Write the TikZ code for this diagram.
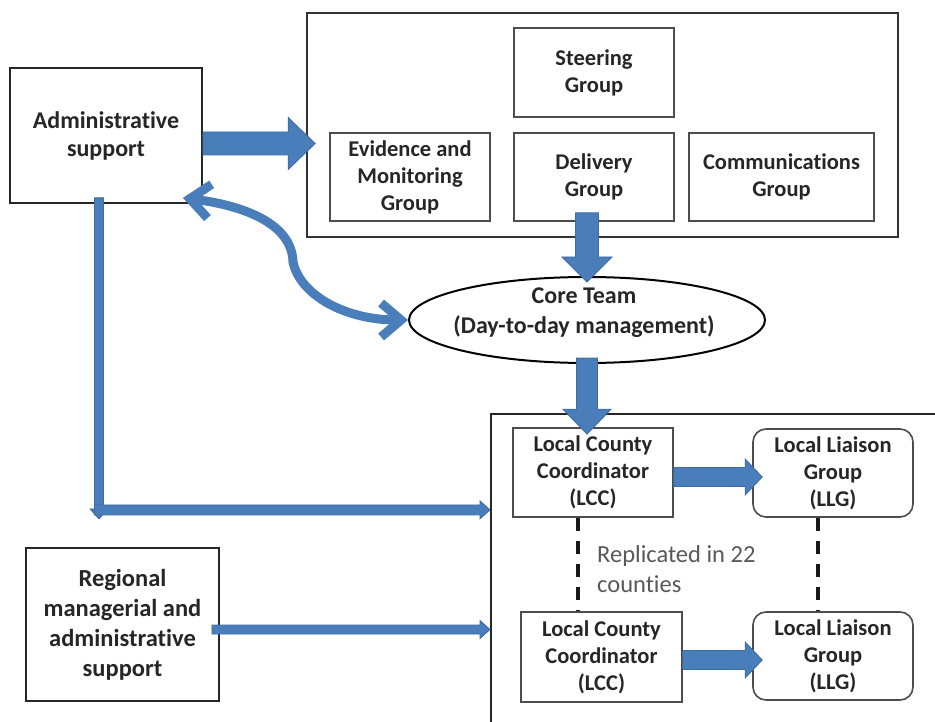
\documentclass[tikz,border=0pt]{standalone}
\usepackage{fontspec}
\setmainfont{Carlito}[Ligatures=NoCommon]
\usetikzlibrary{calc,shapes.geometric,arrows.meta}
\definecolor{arrblue}{HTML}{4A7EBB}
\definecolor{arredge}{HTML}{3C6BA5}
\definecolor{txt}{HTML}{262626}
\definecolor{boxline}{HTML}{4D4D4D}
\definecolor{repl}{HTML}{595959}
\newcommand\myArrR[5]{\filldraw[barrow] let \p1=(#1), \p2=(#2) in
  (\x1,\y1-#3/2) -- (\x2-#5,\y1-#3/2) -- (\x2-#5,\y1-#4/2) -- (\x2,\y1)
  -- (\x2-#5,\y1+#4/2) -- (\x2-#5,\y1+#3/2) -- (\x1,\y1+#3/2) -- cycle;}
\newcommand\myArrD[5]{\filldraw[barrow] let \p1=(#1), \p2=(#2) in
  (\x1-#3/2,\y1) -- (\x1-#3/2,\y2+#5) -- (\x1-#4/2,\y2+#5) -- (\x1,\y2)
  -- (\x1+#4/2,\y2+#5) -- (\x1+#3/2,\y2+#5) -- (\x1+#3/2,\y1) -- cycle;}
\begin{document}
\begin{tikzpicture}[x=1pt,y=-1pt,
  box/.style={draw=boxline,line width=1.6pt,fill=white,inner sep=0pt,align=center,text=txt,
    font=\bfseries\fontsize{22.5}{27}\selectfont},
  outerbox/.style={draw=black!85,line width=1.8pt},
  admintxt/.style={font=\bfseries\fontsize{24}{28}\selectfont},
  regtxt/.style={font=\bfseries\fontsize{24.5}{30}\selectfont},
  barrow/.style={fill=arrblue,draw=arredge,line width=0.8pt},
  dashline/.style={draw=black!90,line width=3.5pt,dash pattern=on 13pt off 10pt},
  repltxt/.style={inner sep=0pt,text=repl,font=\fontsize{24.5}{30}\selectfont}]
\fill[white] (0,0) rectangle (935,722);
\useasboundingbox (0,0) rectangle (935,722);

% top group box
\node[box,draw=black!80,line width=2.6pt,minimum width=591pt,minimum height=224pt] (top) at (602.5,125) {};
\node[box,minimum width=160pt,minimum height=89pt] (steer) at (594,72.5) {Steering\\Group};
\node[box,minimum width=160pt,minimum height=88pt] (evid) at (410,177) {Evidence and\\Monitoring\\Group};
\node[box,minimum width=160pt,minimum height=88pt] (deliv) at (594,177) {Delivery\\Group};
\node[box,minimum width=185pt,minimum height=88pt] (comm) at (781.5,177) {Communications\\Group};

% admin
\node[box,outerbox,admintxt,minimum width=192pt,minimum height=135pt] (admin) at (106,135.5) {Administrative\\support};

% core team
\node[ellipse,draw=black,line width=2pt,fill=white,minimum width=356pt,minimum height=86pt,inner sep=0pt] (core) at (587,320) {};
\node[align=center,inner sep=0pt,text=txt,font=\bfseries\fontsize{24}{30}\selectfont] (coretext) at (584,313) {Core Team\\(Day-to-day management)};

% bottom box
\node[draw=black!85,line width=2pt,minimum width=520pt,minimum height=420pt,inner sep=0pt,anchor=north west] (bottom) at (490,413) {};
\node[box,minimum width=160pt,minimum height=89pt] (lcc1) at (593,472.5) {Local County\\Coordinator\\(LCC)};
\node[box,rounded corners=13pt,minimum width=160pt,minimum height=88pt] (llg1) at (833,473) {Local Liaison\\Group\\(LLG)};
\node[box,minimum width=161pt,minimum height=90pt] (lcc2) at (601.5,657) {Local County\\Coordinator\\(LCC)};
\node[box,rounded corners=13pt,minimum width=160pt,minimum height=88pt] (llg2) at (833,656) {Local Liaison\\Group\\(LLG)};
\node[repltxt,anchor=base west] (repl1) at (597,562) {Replicated in 22};
\node[repltxt,anchor=base west] (repl2) at (597,592) {counties};

% regional
\node[box,outerbox,regtxt,minimum width=193pt,minimum height=153pt] (reg) at (122.5,624.5) {Regional\\managerial and\\administrative\\support};

% dashed replication lines
\coordinate (d1) at ($(lcc1.south)+(-15,0)$);
\coordinate (d2) at ($(llg1.south)+(-15,0)$);
\draw[dashline] (d1) -- (d1 |- lcc2.north);
\draw[dashline] (d2) -- (d2 |- llg2.north);

% block arrows
\myArrR{$(admin.east)+(0,8)$}{$(evid.west)+(-14,0)$}{23pt}{52pt}{27pt}
\myArrD{$(deliv.south)+(-7,-9)$}{$(core.north)+(0,6)$}{23pt}{50pt}{25pt}
\myArrD{$(core.south)+(0,-6)$}{$(lcc1.north)+(-6,7)$}{21pt}{48pt}{25pt}
\myArrR{$(lcc1.east)+(0,4.5)$}{$(llg1.west)+(10,0)$}{19pt}{36pt}{17pt}
\myArrR{$(lcc2.east)+(0,3)$}{$(llg2.west)+(10,0)$}{19pt}{36pt}{17pt}

% admin line to the counties
\coordinate (corner) at ($(admin.south)+(-7,306)$);
\myArrD{$(corner |- admin.south)+(0,-6)$}{$(corner)+(0,9)$}{9pt}{18pt}{10pt}
\myArrR{$(corner)+(-4.5,0)$}{corner -| bottom.north west}{10pt}{18pt}{10pt}

% regional arrow
\myArrR{$(reg.east)+(-8,5)$}{reg.east -| bottom.north west}{9pt}{18pt}{10pt}

% curved two-way arrow
\draw[arrblue,line width=9pt,line cap=round,
  {Straight Barb[length=20pt,width=34pt]}-{Straight Barb[length=20pt,width=34pt]}]
  ($(admin.south east)+(-20,-6)$) .. controls (240,205) and (292,222) .. (293,262)
  .. controls (300,295) and (345,320) .. (core.west);
\end{tikzpicture}
\end{document}
